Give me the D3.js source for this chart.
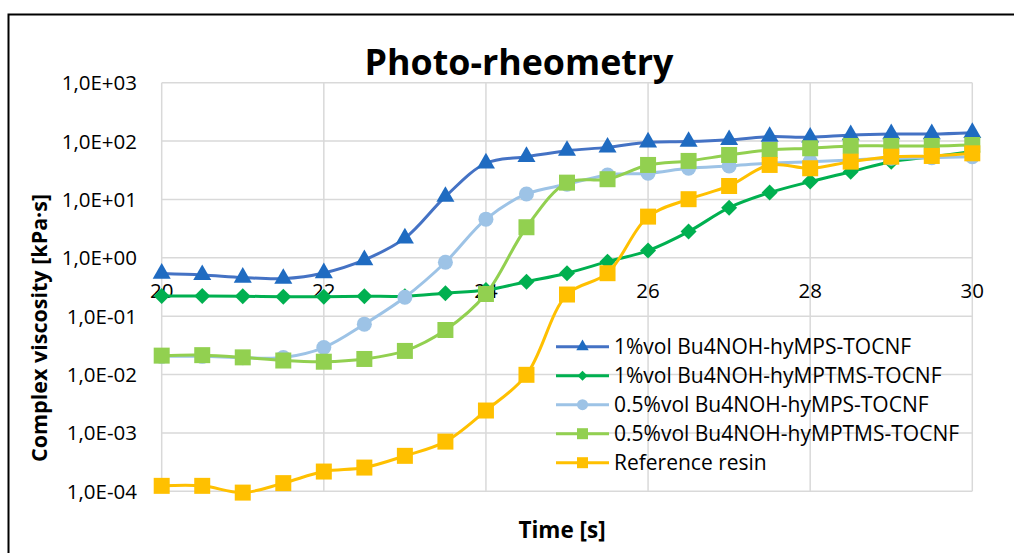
<!DOCTYPE html>
<html>
<head>
<meta charset="utf-8">
<script src="https://cdn.jsdelivr.net/npm/d3@7/dist/d3.min.js"></script>
<style>
  html, body { margin: 0; padding: 0; background: #fff; }
  svg { display: block; font-family: "Open Sans", "Liberation Sans", sans-serif; }
</style>
</head>
<body>
<svg id="chart" width="1014" height="553"></svg>
<script>
// ---- data ----
const times = [20, 20.5, 21, 21.5, 22, 22.5, 23, 23.5, 24, 24.5, 25, 25.5, 26, 26.5, 27, 27.5, 28, 28.5, 29, 29.5, 30];

const mps1 = [0.54, 0.51, 0.46, 0.44, 0.55, 0.92, 2.17, 11.2, 41.7, 54, 68.5, 78, 95.5, 98, 105, 119, 116, 127, 132, 132, 139];
const mptms1 = [0.222, 0.222, 0.22, 0.215, 0.215, 0.22, 0.22, 0.248, 0.28, 0.39, 0.545, 0.86, 1.33, 2.81, 7.24, 13.1, 20.2, 29.9, 44.4, 54, 66];
const mps05 = [0.0205, 0.0205, 0.0195, 0.0196, 0.029, 0.073, 0.211, 0.84, 4.6, 12.4, 18.2, 26.3, 28.1, 34.2, 37.5, 41.7, 44.4, 47.4, 50.7, 52, 54];
const mptms05 = [0.0211, 0.0215, 0.0197, 0.0174, 0.0166, 0.0185, 0.0254, 0.058, 0.24, 3.34, 19.4, 22.2, 39, 45.7, 57.8, 70.5, 75.3, 82.5, 82.5, 82.5, 85.7];
const reference = [0.000124, 0.000124, 0.000095, 0.000138, 0.000218, 0.000255, 0.000405, 0.00071, 0.00242, 0.0099, 0.235, 0.545, 5.08, 10.1, 17, 39, 34.2, 44.4, 54, 55.6, 61.7];

const seriesNames = [
  "1%vol Bu4NOH-hyMPS-TOCNF",
  "1%vol Bu4NOH-hyMPTMS-TOCNF",
  "0.5%vol Bu4NOH-hyMPS-TOCNF",
  "0.5%vol Bu4NOH-hyMPTMS-TOCNF",
  "Reference resin"
];
const seriesValues = [mps1, mptms1, mps05, mptms05, reference];

const xTicks = [20, 22, 24, 26, 28, 30];
const yTicks = [1e-4, 1e-3, 1e-2, 1e-1, 1e0, 1e1, 1e2, 1e3];

// ---- styles ----
const styles = [
  { line: "#4472C4", fill: "#1F6BC1", shape: "triangle" },
  { line: "#00B050", fill: "#00B050", shape: "diamond" },
  { line: "#9DC3E6", fill: "#9DC3E6", shape: "circle" },
  { line: "#92D050", fill: "#92D050", shape: "square" },
  { line: "#FFC000", fill: "#FFC000", shape: "square" }
];

const svg = d3.select("#chart");

// outer frame (only left and top edges visible)
svg.append("path")
  .attr("d", "M8.5,553 L8.5,14.5 L1014,14.5")
  .attr("fill", "none")
  .attr("stroke", "#000")
  .attr("stroke-width", 2);

const x = d3.scaleLinear().domain([20, 30]).range([161.7, 972.3]);
const y = d3.scaleLog().domain([1e-4, 1e3]).range([491.3, 82.7]);

// gridlines
const grid = svg.append("g").attr("stroke", "#D9D9D9").attr("stroke-width", 1.5);
grid.selectAll("line.h").data(yTicks).enter().append("line")
  .attr("x1", x(20)).attr("x2", x(30))
  .attr("y1", d => y(d)).attr("y2", d => y(d));
grid.selectAll("line.v").data(xTicks).enter().append("line")
  .attr("x1", d => x(d)).attr("x2", d => x(d))
  .attr("y1", y(1e3)).attr("y2", y(1e-4));

// y tick labels
function fmtExp(v) {
  const e = Math.round(Math.log10(v));
  const sign = e < 0 ? "-" : "+";
  return "1,0E" + sign + String(Math.abs(e)).padStart(2, "0");
}
svg.append("g").selectAll("text").data(yTicks).enter().append("text")
  .attr("x", 137)
  .attr("y", d => y(d) + 7.5)
  .attr("text-anchor", "end")
  .attr("font-size", 20.5)
  .attr("fill", "#000")
  .text(fmtExp);

// x tick labels (axis crosses at 1)
svg.append("g").selectAll("text").data(xTicks).enter().append("text")
  .attr("x", d => x(d))
  .attr("y", y(1) + 40)
  .attr("text-anchor", "middle")
  .attr("font-size", 20.5)
  .attr("fill", "#000")
  .text(d => d);

// marker drawing
function marker(sel, shape, size, fill) {
  let sym;
  if (shape === "triangle") sym = d3.symbol(d3.symbolTriangle, size * size * 0.55);
  else if (shape === "diamond") sym = d3.symbol(d3.symbolSquare, size * size * 0.5);
  else if (shape === "circle") sym = d3.symbol(d3.symbolCircle, Math.PI * size * size / 4);
  else sym = d3.symbol(d3.symbolSquare, size * size);
  const p = sel.append("path").attr("d", sym()).attr("fill", fill);
  if (shape === "diamond") p.attr("transform", "rotate(45)");
  return p;
}
const markerSize = { triangle: 16, diamond: 16, circle: 15, square: 16 };

const line = d3.line()
  .x((d, i) => x(times[i]))
  .y(d => y(d))
  .curve(d3.curveCatmullRom.alpha(0.5));

seriesValues.forEach((vals, k) => {
  const st = styles[k];
  const g = svg.append("g");
  g.append("path")
    .attr("d", line(vals))
    .attr("fill", "none")
    .attr("stroke", st.line)
    .attr("stroke-width", 3);
  g.selectAll("g.m").data(vals).enter().append("g")
    .attr("transform", (d, i) => `translate(${x(times[i])},${y(d)})`)
    .each(function () { marker(d3.select(this), st.shape, markerSize[st.shape], st.fill); });
});

// legend
const legend = svg.append("g");
seriesNames.forEach((name, k) => {
  const st = styles[k];
  const ly = 346.7 + k * 29;
  legend.append("line")
    .attr("x1", 556).attr("x2", 609)
    .attr("y1", ly).attr("y2", ly)
    .attr("stroke", st.line).attr("stroke-width", 3);
  const mg = legend.append("g").attr("transform", `translate(582.5,${ly})`);
  marker(mg, st.shape, st.shape === "diamond" ? 10 : 11, st.fill);
  legend.append("text")
    .attr("x", 614).attr("y", ly + 7.5)
    .attr("font-size", 21)
    .attr("fill", "#000")
    .text(name);
});

// titles
svg.append("text")
  .attr("x", 519).attr("y", 75)
  .attr("text-anchor", "middle")
  .attr("font-size", 35.8)
  .attr("font-weight", "bold")
  .text("Photo-rheometry");

svg.append("text")
  .attr("x", 562).attr("y", 538)
  .attr("text-anchor", "middle")
  .attr("font-size", 22.5)
  .attr("font-weight", "bold")
  .text("Time [s]");

svg.append("text")
  .attr("transform", "translate(47,328) rotate(-90)")
  .attr("text-anchor", "middle")
  .attr("font-size", 21.5)
  .attr("font-weight", "bold")
  .text("Complex viscosity [kPa·s]");
</script>
</body>
</html>
